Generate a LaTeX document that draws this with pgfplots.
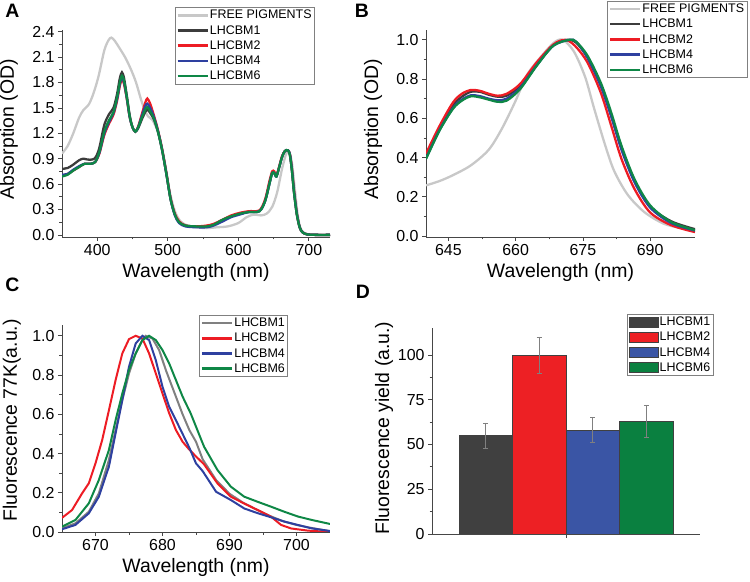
\documentclass[border=0pt]{standalone}
\usepackage{fontspec}
\setmainfont{Liberation Sans}
\usepackage{pgfplots}
\pgfplotsset{compat=1.18}

\definecolor{cfree}{RGB}{200,200,200}
\definecolor{cm1}{RGB}{60,60,60}
\definecolor{cm1c}{RGB}{128,128,128}
\definecolor{cm2}{RGB}{237,28,36}
\definecolor{cm4}{RGB}{46,64,160}
\definecolor{cm6}{RGB}{14,135,70}
\definecolor{bar1}{RGB}{64,64,64}
\definecolor{bar2}{RGB}{237,32,36}
\definecolor{bar4}{RGB}{58,85,165}
\definecolor{bar6}{RGB}{10,128,64}
\definecolor{axgray}{RGB}{70,70,70}

\pgfplotsset{
  panel/.style={
    scale only axis,
    axis x line*=bottom, axis y line*=left,
    tick align=outside,
    axis line style={axgray, line width=0.7pt},
    every tick/.style={axgray, line width=0.7pt},
    major tick length=4bp, minor tick length=2.5bp,
    minor x tick num=1, minor y tick num=1,
    ticklabel style={font=\fontsize{16}{16}\selectfont},
    /pgf/number format/assume math mode=true,
    label style={font=\fontsize{19.5}{19.5}\selectfont},
    legend style={draw=gray, line width=0.6pt, fill=white,
      font=\fontsize{12.5}{13}\selectfont, legend cell align=left,
      inner sep=1.5pt, row sep=2.6bp, nodes={inner sep=1.2pt}},
    legend image code/.code={\draw[##1, line width=2.4pt] (0bp,0bp) -- (30bp,0bp);},
    every axis plot/.append style={line width=2.3pt, mark=none},
  },
  onedec/.style={yticklabel style={/pgf/number format/.cd, fixed, fixed zerofill, precision=1}},
  barlegend/.style={legend image code/.code={\draw[##1, draw=black!75, line width=0.6pt] (0bp,-5bp) rectangle (29bp,5bp);}},
}

\begin{document}
\begin{tikzpicture}
\path[use as bounding box] (0,0) rectangle (750bp,582bp);

% ---------- A ----------
\begin{axis}[panel, onedec,
  at={(62bp,345bp)}, anchor=south west, width=268bp, height=207bp,
  xmin=350, xmax=730, ymin=-0.025, ymax=2.42,
  xtick={400,500,600,700}, ytick={0,0.3,...,2.41},
  xlabel={Wavelength (nm)}, ylabel={Absorption (OD)},
  xlabel style={at={(axis description cs:0.5,-0.17)}, anchor=center},
  ylabel style={at={(axis description cs:-0.198,0.52)}, anchor=center},
  legend style={at={(0.42,1.11)}, anchor=north west},
]
\addplot[cfree, smooth, tension=0.5] coordinates {
(350,0.96) (358,1.05) (366,1.20) (374,1.38) (380,1.47) (388,1.54) (395,1.68)
(402,1.88) (410,2.18) (416,2.30) (420,2.33) (425,2.29) (432,2.20) (440,2.09)
(448,1.95) (455,1.80) (462,1.60) (467,1.48) (472,1.40) (478,1.36) (484,1.26)
(490,1.10) (497,0.80) (503,0.50) (510,0.28) (518,0.16) (528,0.11) (540,0.09)
(555,0.08) (570,0.09) (585,0.10) (600,0.14) (612,0.21) (622,0.24) (632,0.23)
(640,0.25) (648,0.33) (655,0.50) (662,0.78) (668,0.96) (672,0.98) (676,0.85)
(680,0.55) (684,0.25) (688,0.08) (694,0.02) (700,0.005) (715,0) (730,0)};
\addlegendentry{FREE PIGMENTS}
\addplot[cm1, smooth, tension=0.5] coordinates {
(350,0.78) (358,0.79) (366,0.83) (374,0.88) (380,0.90) (386,0.89) (393,0.89)
(398,0.92) (403,1.03) (410,1.30) (417,1.43) (423,1.50) (428,1.66) (432,1.85)
(435,1.92) (438,1.85) (442,1.64) (446,1.41) (450,1.27) (454,1.22) (458,1.26)
(463,1.36) (468,1.45) (471,1.48) (475,1.44) (480,1.37) (486,1.22) (492,1.00)
(498,0.72) (504,0.42) (510,0.24) (516,0.15) (525,0.11) (540,0.10) (555,0.10)
(565,0.12) (578,0.18) (590,0.22) (602,0.25) (615,0.27) (630,0.28) (638,0.40)
(644,0.60) (648,0.73) (651,0.73) (654,0.69) (658,0.80) (662,0.92) (666,0.99)
(670,1.00) (673,0.95) (676,0.76) (679,0.50) (683,0.24) (687,0.09) (691,0.03)
(698,0.005) (710,0) (730,0)};
\addlegendentry{LHCBM1}
\addplot[cm2, smooth, tension=0.5] coordinates {
(350,0.70) (358,0.72) (366,0.76) (374,0.80) (382,0.84) (390,0.84) (397,0.86)
(403,0.96) (410,1.18) (417,1.32) (423,1.42) (428,1.58) (432,1.76) (435,1.84)
(438,1.78) (442,1.60) (446,1.39) (450,1.27) (454,1.22) (458,1.28) (463,1.42)
(468,1.56) (471,1.61) (475,1.55) (480,1.42) (486,1.24) (492,1.01) (498,0.73)
(504,0.43) (510,0.25) (516,0.16) (525,0.11) (540,0.10) (555,0.11) (565,0.13)
(578,0.18) (590,0.23) (602,0.26) (615,0.28) (630,0.29) (638,0.42) (644,0.63)
(648,0.75) (651,0.75) (654,0.70) (658,0.81) (662,0.93) (666,0.99) (670,1.00)
(673,0.96) (676,0.78) (679,0.52) (683,0.25) (687,0.09) (691,0.03) (698,0.005)
(710,0) (730,0)};
\addlegendentry{LHCBM2}
\addplot[cm4, smooth, tension=0.5] coordinates {
(350,0.71) (358,0.72) (366,0.77) (374,0.81) (382,0.84) (390,0.84) (397,0.86)
(403,0.97) (410,1.20) (417,1.34) (423,1.44) (428,1.60) (432,1.78) (435,1.86)
(438,1.80) (442,1.61) (446,1.39) (450,1.27) (454,1.22) (458,1.27) (463,1.40)
(468,1.52) (471,1.55) (475,1.50) (480,1.40) (486,1.23) (492,1.00) (498,0.72)
(504,0.42) (510,0.23) (516,0.14) (525,0.10) (540,0.09) (555,0.09) (565,0.11)
(578,0.16) (590,0.21) (602,0.24) (615,0.27) (630,0.28) (638,0.40) (644,0.60)
(648,0.73) (651,0.73) (654,0.69) (658,0.80) (662,0.92) (666,0.99) (670,1.00)
(673,0.96) (676,0.77) (679,0.51) (683,0.25) (687,0.09) (691,0.03) (698,0.005)
(710,0) (730,0)};
\addlegendentry{LHCBM4}
\addplot[cm6, smooth, tension=0.5] coordinates {
(350,0.69) (358,0.71) (366,0.76) (374,0.80) (382,0.84) (390,0.84) (397,0.86)
(403,0.98) (410,1.22) (417,1.36) (423,1.45) (428,1.62) (432,1.80) (435,1.88)
(438,1.82) (442,1.62) (446,1.40) (450,1.27) (454,1.22) (458,1.27) (463,1.38)
(468,1.48) (471,1.51) (475,1.46) (480,1.38) (486,1.22) (492,1.00) (498,0.72)
(504,0.42) (510,0.24) (516,0.15) (525,0.11) (540,0.10) (555,0.10) (565,0.12)
(578,0.18) (590,0.22) (602,0.25) (615,0.27) (630,0.28) (638,0.40) (644,0.60)
(648,0.73) (651,0.73) (654,0.69) (658,0.80) (662,0.92) (666,0.99) (670,1.00)
(673,0.95) (676,0.76) (679,0.50) (683,0.24) (687,0.09) (691,0.03) (698,0.005)
(710,0) (730,0)};
\addlegendentry{LHCBM6}
\end{axis}

% ---------- B ----------
\begin{axis}[panel, onedec,
  at={(426bp,345bp)}, anchor=south west, width=269bp, height=207bp,
  xmin=640, xmax=700, ymin=-0.005, ymax=1.05,
  xtick={645,660,675,690}, ytick={0,0.2,...,1.01},
  xlabel={Wavelength (nm)}, ylabel={Absorption (OD)},
  xlabel style={at={(axis description cs:0.5,-0.17)}, anchor=center},
  ylabel style={at={(axis description cs:-0.197,0.52)}, anchor=center},
  legend style={at={(0.673,1.14)}, anchor=north west},
]
\addplot[cfree, smooth, tension=0.5] coordinates {
(640,0.258) (643,0.28) (646,0.31) (650,0.36) (654,0.44) (657,0.55) (660,0.69)
(662.5,0.82) (665.5,0.91) (668.5,0.985) (670.5,1.0) (673,0.94) (675.5,0.81)
(677.5,0.65) (680,0.46) (682,0.33) (685,0.21) (688.7,0.122) (693,0.063)
(697,0.04) (700,0.028)};
\addlegendentry{FREE PIGMENTS}
\addplot[cm1, smooth, tension=0.5] coordinates {
(640,0.40) (643,0.545) (646,0.665) (648,0.71) (650,0.735) (652,0.735) (654,0.72)
(656,0.71) (658,0.715) (661,0.765) (664.7,0.875) (668.4,0.972) (671.5,1.0)
(673.5,0.985) (676,0.91) (679,0.765) (681.3,0.615) (683.6,0.45) (686.5,0.28)
(690,0.15) (694.7,0.075) (700,0.035)};
\addlegendentry{LHCBM1}
\addplot[cm2, smooth, tension=0.5] coordinates {
(640,0.42) (643,0.56) (646,0.68) (648,0.725) (650,0.744) (652,0.74) (654,0.725)
(656,0.715) (658,0.725) (661,0.775) (664.7,0.885) (668.4,0.976) (671,1.0)
(673.2,0.97) (676,0.885) (679,0.73) (681.3,0.563) (683.6,0.393) (686.5,0.24)
(690,0.12) (694.7,0.055) (700,0.02)};
\addlegendentry{LHCBM2}
\addplot[cm4, smooth, tension=0.5] coordinates {
(640,0.395) (643,0.54) (646,0.652) (648,0.695) (650,0.717) (652,0.713) (654,0.70)
(656,0.692) (658,0.70) (661,0.755) (664.7,0.87) (668.4,0.97) (672,1.0)
(673.5,0.99) (676,0.91) (679,0.765) (681.3,0.61) (683.6,0.44) (686.5,0.275)
(690,0.145) (694.7,0.066) (700,0.028)};
\addlegendentry{LHCBM4}
\addplot[cm6, smooth, tension=0.5] coordinates {
(640,0.393) (643,0.537) (646,0.648) (648,0.69) (650,0.712) (652,0.707) (654,0.695)
(656,0.684) (658,0.69) (661,0.749) (664.7,0.868) (668.4,0.97) (672,1.0)
(673.5,0.99) (676,0.92) (679,0.78) (681.3,0.63) (683.6,0.46) (686.5,0.29)
(690,0.156) (694.7,0.071) (700,0.03)};
\addlegendentry{LHCBM6}
\end{axis}

% ---------- C ----------
\begin{axis}[panel, onedec,
  at={(62bp,50bp)}, anchor=south west, width=268bp, height=207bp,
  xmin=665, xmax=705, ymin=0, ymax=1.055,
  xtick={670,680,690,700}, ytick={0,0.2,...,1.01},
  xlabel={Wavelength (nm)}, ylabel={Fluorescence 77K(a.u.)},
  xlabel style={at={(axis description cs:0.5,-0.17)}, anchor=center},
  ylabel style={at={(axis description cs:-0.187,0.54)}, anchor=center},
  legend style={at={(0.511,1.048)}, anchor=north west},
  every axis plot/.append style={line width=2pt},
]
\addplot[cm1c] coordinates {
(665,0.019) (667,0.044) (669,0.103) (670.5,0.197) (672,0.367) (673,0.52)
(674,0.672) (675,0.808) (676,0.91) (677,0.978) (677.5,1.0) (678.5,0.986)
(679.5,0.927) (680.5,0.825) (682,0.69) (683,0.60) (684,0.52) (685,0.46)
(686,0.37) (688,0.265) (690,0.195) (692,0.15) (694,0.115) (696,0.082)
(698,0.055) (700,0.036) (702,0.022) (705,0.004)};
\addlegendentry{LHCBM1}
\addplot[cm2] coordinates {
(665,0.072) (666.5,0.112) (668,0.197) (669,0.248) (670,0.35) (671,0.469)
(672,0.62) (673,0.774) (674,0.91) (675,0.983) (676,1.0) (677,0.986)
(678,0.91) (679,0.808) (680,0.706) (681,0.605) (682,0.52) (683,0.46)
(684,0.42) (685,0.385) (686.2,0.345) (688.2,0.248) (690.2,0.18) (692.2,0.145)
(694.2,0.112) (696.2,0.078) (697.7,0.036) (699.2,0.018) (701.7,0.007) (705,0)};
\addlegendentry{LHCBM2}
\addplot[cm4] coordinates {
(665,0.014) (667,0.036) (669,0.095) (670.5,0.18) (672,0.333) (673,0.503)
(674,0.672) (675,0.842) (676,0.961) (677,1.0) (678,0.978) (679,0.876)
(680,0.74) (681,0.638) (682,0.57) (684,0.43) (685,0.35) (686,0.31)
(688,0.205) (690.2,0.163) (692.2,0.12) (694.2,0.096) (696.2,0.075)
(698.2,0.053) (700.2,0.036) (702.2,0.019) (705,0.005)};
\addlegendentry{LHCBM4}
\addplot[cm6] coordinates {
(665,0.027) (667,0.061) (669,0.146) (670.5,0.265) (672,0.418) (673,0.57)
(674,0.706) (675,0.825) (676,0.91) (677,0.978) (678,1.0) (679,0.978)
(680,0.927) (681,0.859) (683,0.69) (684.2,0.605) (686.2,0.435) (688.2,0.316)
(690.2,0.231) (692.2,0.18) (694.2,0.154) (696.2,0.129) (698.2,0.103)
(700.2,0.079) (702.2,0.062) (705,0.041)};
\addlegendentry{LHCBM6}
\end{axis}

% ---------- D ----------
\begin{axis}[panel, barlegend,
  at={(432bp,48bp)}, anchor=south west, width=268bp, height=206bp,
  xmin=-1, xmax=1, ymin=0, ymax=115,
  xtick={0}, xticklabels={}, minor x tick num=0,
  ytick={0,25,50,75,100},
  ylabel={Fluorescence yield (a.u.)},
  ylabel style={at={(axis description cs:-0.179,0.515)}, anchor=center},
  legend style={at={(0.728,1.068)}, anchor=north west},
  every axis plot/.append style={ybar, bar width=0.4, bar shift=0pt, line width=0.6pt,
    draw=black!75},
]
\addplot[fill=bar1, error bars/.cd, y dir=both, y explicit,
  error bar style={gray, line width=0.7pt},
  error mark options={rotate=90, mark size=2.5bp, gray}]
  coordinates {(-0.6,55) +- (0,7)};
\addlegendentry{LHCBM1}
\addplot[fill=bar2, error bars/.cd, y dir=both, y explicit,
  error bar style={gray, line width=0.7pt},
  error mark options={rotate=90, mark size=2.5bp, gray}]
  coordinates {(-0.2,100) +- (0,10)};
\addlegendentry{LHCBM2}
\addplot[fill=bar4, error bars/.cd, y dir=both, y explicit,
  error bar style={gray, line width=0.7pt},
  error mark options={rotate=90, mark size=2.5bp, gray}]
  coordinates {(0.2,58) +- (0,7)};
\addlegendentry{LHCBM4}
\addplot[fill=bar6, error bars/.cd, y dir=both, y explicit,
  error bar style={gray, line width=0.7pt},
  error mark options={rotate=90, mark size=2.5bp, gray}]
  coordinates {(0.6,63) +- (0,9)};
\addlegendentry{LHCBM6}
\end{axis}

\node[font=\bfseries\fontsize{19.5}{19.5}\selectfont] at (12.5bp,571bp) {A};
\node[font=\bfseries\fontsize{19.5}{19.5}\selectfont] at (362bp,571bp) {B};
\node[font=\bfseries\fontsize{19.5}{19.5}\selectfont] at (12.5bp,297bp) {C};
\node[font=\bfseries\fontsize{19.5}{19.5}\selectfont] at (363bp,290bp) {D};
\end{tikzpicture}
\end{document}
